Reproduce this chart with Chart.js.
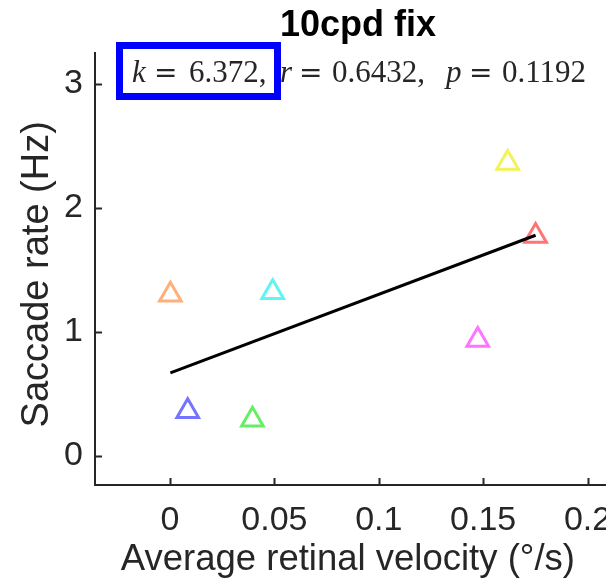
<!DOCTYPE html>
<html>
<head>
<meta charset="utf-8">
<script src="https://cdn.jsdelivr.net/npm/chart.js@4"></script>
<style>
  html, body { margin: 0; padding: 0; background: #fff; overflow: hidden; }
  #wrap { position: absolute; left: 0; top: 0; width: 640px; height: 587px; }
</style>
</head>
<body>
<div id="wrap"><canvas id="chart" width="640" height="587"></canvas></div>
<script>
// data
var subjectVelocity = [0.0002, 0.0492, 0.0085, 0.0395, 0.1474, 0.1617, 0.1751];
var subjectRate     = [1.30, 1.32, 0.36, 0.293, 0.935, 2.363, 1.774];
var subjectColors   = ['#ffb07a', '#5ff5f5', '#7474ff', '#66ee66', '#ff74ff', '#f2f25a', '#ff7474'];

// regression line end points
var fitVelocity = [0.0002, 0.1751];
var fitRate     = [0.67, 1.78];

var xTicks = [0, 0.05, 0.1, 0.15, 0.2];
var xTickLabels = ['0', '0.05', '0.1', '0.15', '0.2'];
var yTicks = [0, 1, 2, 3];
var yTickLabels = ['0', '1', '2', '3'];

var titleText = '10cpd fix';
// trailing spaces nudge the centred labels like in the original figure
var xTitle = 'Average retinal velocity (\u00B0/s)  ';
var yTitle = 'Saccade rate (Hz) ';

// stats text pieces: [text, kind, x]
var statPieces = [
  ['k', 'var', 132], ['=', 'op', 154], ['6.372,', 'num', 189],
  ['r', 'var', 280], ['=', 'op', 299], ['0.6432,', 'num', 332],
  ['p', 'var', 446], ['=', 'op', 469], ['0.1192', 'num', 502]
];

var axisColor = '#262626';

// inward tick marks, MATLAB style
var innerTicks = {
  id: 'innerTicks',
  afterDraw: function(chart) {
    var ctx = chart.ctx, area = chart.chartArea;
    var xs = chart.scales.x, ys = chart.scales.y;
    ctx.save();
    ctx.strokeStyle = axisColor;
    ctx.lineWidth = 2;
    xs.ticks.forEach(function(t) {
      var px = Math.round(xs.getPixelForValue(t.value)) + 0.5;
      ctx.beginPath(); ctx.moveTo(px, area.bottom); ctx.lineTo(px, area.bottom - 7); ctx.stroke();
    });
    ys.ticks.forEach(function(t) {
      var py = Math.round(ys.getPixelForValue(t.value)) + 0.5;
      ctx.beginPath(); ctx.moveTo(area.left, py); ctx.lineTo(area.left + 7, py); ctx.stroke();
    });
    ctx.restore();
  }
};

// k / r / p text with the blue box
var statsLabel = {
  id: 'statsLabel',
  afterDraw: function(chart) {
    var ctx = chart.ctx;
    ctx.save();
    ctx.fillStyle = '#262626';
    ctx.textBaseline = 'alphabetic';
    ctx.textAlign = 'left';
    statPieces.forEach(function(p) {
      if (p[1] === 'var') ctx.font = 'italic 31px "Liberation Serif", serif';
      else if (p[1] === 'op') ctx.font = '28px "DejaVu Serif", serif';
      else ctx.font = '31px "Liberation Serif", serif';
      ctx.fillText(p[0], p[2], 82);
    });
    ctx.strokeStyle = '#0000ff';
    ctx.lineWidth = 7;
    ctx.strokeRect(119.5, 45.5, 158, 51);
    ctx.restore();
  }
};

var ctx = document.getElementById('chart').getContext('2d');
var chart = new Chart(ctx, {
  type: 'scatter',
  data: {
    datasets: [{
      type: 'line',
      data: fitVelocity.map(function(v, i) { return { x: v, y: fitRate[i] }; }),
      borderColor: '#000000',
      borderWidth: 3,
      pointRadius: 0,
      fill: false
    }, {
      data: subjectVelocity.map(function(v, i) { return { x: v, y: subjectRate[i] }; }),
      pointStyle: 'triangle',
      pointRadius: 12.5,
      pointBorderWidth: 3,
      pointBorderColor: subjectColors,
      pointBackgroundColor: 'rgba(0,0,0,0)'
    }]
  },
  options: {
    responsive: false,
    animation: false,
    devicePixelRatio: 1,
    layout: { padding: { left: 0, right: 19, top: 0, bottom: 0 } },
    plugins: {
      legend: { display: false },
      tooltip: { enabled: false },
      title: {
        display: true,
        text: titleText,
        fullSize: false,
        color: '#000000',
        font: { family: '"Liberation Sans", Arial, sans-serif', size: 36, weight: 'bold', lineHeight: 1.2 },
        padding: { top: 4, bottom: 5.8 }
      }
    },
    scales: {
      x: {
        type: 'linear',
        min: -0.0359,
        max: 0.216,
        grid: { display: false, drawTicks: false },
        border: { display: true, color: axisColor, width: 2 },
        afterBuildTicks: function(scale) { scale.ticks = xTicks.map(function(v) { return { value: v }; }); },
        afterFit: function(scale) { scale.height = 102; },
        ticks: {
          color: axisColor,
          padding: 15,
          maxRotation: 0,
          font: { family: '"Liberation Sans", Arial, sans-serif', size: 34 },
          callback: function(v, i) { return xTickLabels[i]; }
        },
        title: {
          display: true,
          text: xTitle,
          color: axisColor,
          font: { family: '"Liberation Sans", Arial, sans-serif', size: 36.5, lineHeight: 1.2 },
          padding: { top: 0, bottom: 5 }
        }
      },
      y: {
        type: 'linear',
        min: -0.234,
        max: 3.25,
        grid: { display: false, drawTicks: false },
        border: { display: true, color: axisColor, width: 2 },
        afterBuildTicks: function(scale) { scale.ticks = yTicks.map(function(v) { return { value: v }; }); },
        afterFit: function(scale) { scale.width = 95; },
        ticks: {
          color: axisColor,
          padding: 12,
          font: { family: '"Liberation Sans", Arial, sans-serif', size: 34 },
          callback: function(v, i) { return yTickLabels[i]; }
        },
        title: {
          display: true,
          text: yTitle,
          color: axisColor,
          font: { family: '"Liberation Sans", Arial, sans-serif', size: 38, lineHeight: 1.2 },
          padding: { top: 15, bottom: 0 }
        }
      }
    }
  },
  plugins: [innerTicks, statsLabel]
});
</script>
</body>
</html>
